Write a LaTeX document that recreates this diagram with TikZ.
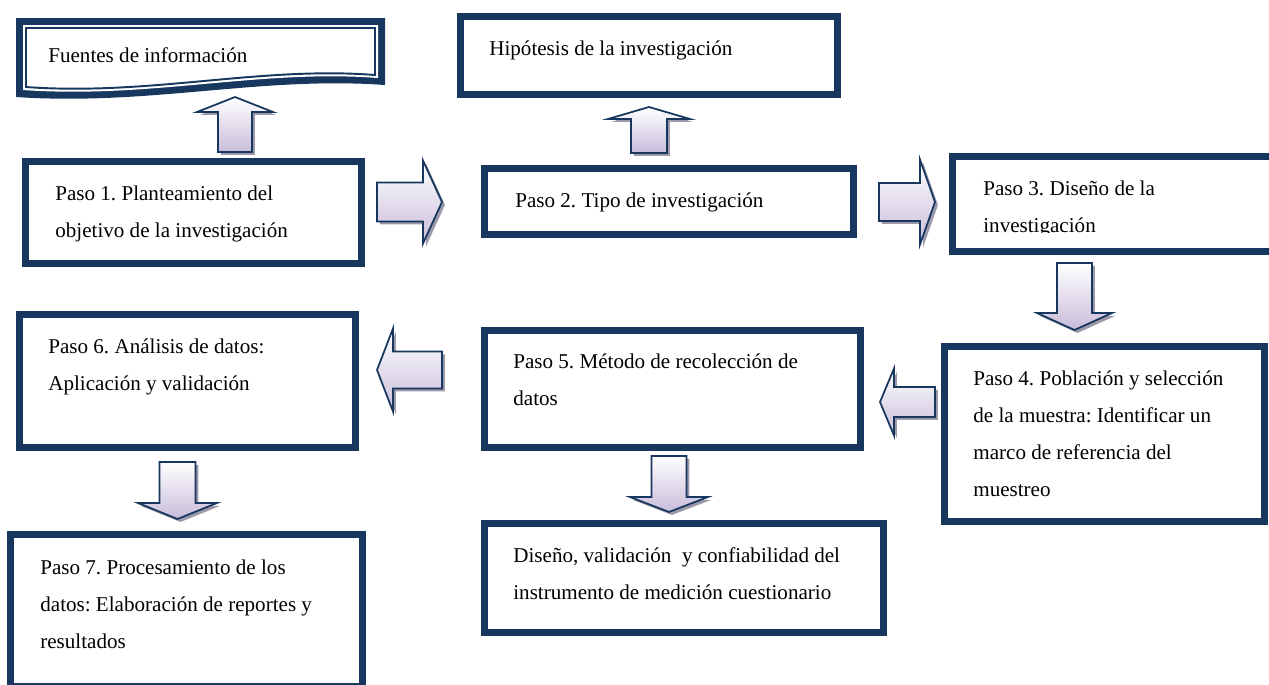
\documentclass[tikz,border=0pt]{standalone}
\usepackage{fontspec}
\setmainfont{Liberation Serif}
\frenchspacing
\definecolor{frame navy}{HTML}{17375E}
\definecolor{arrow lilac}{HTML}{C8BCDA}
\definecolor{arrow shadow}{HTML}{9D99AB}
\usetikzlibrary{calc,positioning,shadows}
\tikzstyle{box frame}=[draw=frame navy, line width=4pt, fill=white, anchor=north west, inner sep=0pt,
  append after command={\pgfextra{\draw[frame navy, line width=1.1pt] ([shift={(10,10)}]\tikzlastnode.north west) rectangle ([shift={(-10,-10)}]\tikzlastnode.south east);}}]
\tikzstyle{box text}=[anchor=north west, yshift=14.7pt, inner sep=0pt, text width=8cm, align=left, font=\fontsize{12}{21}\selectfont,
  execute at begin node={\spaceskip=0pt\xspaceskip=0pt\strut}]
\tikzstyle{block arrow}=[draw=frame navy, line width=1pt, top color=white, bottom color=arrow lilac,
  drop shadow={shadow xshift=1.7pt, shadow yshift=-1.7pt, fill=arrow shadow, opacity=1}]
% block arrows: tail, head base, tip, middle, shaft half width, head half width
\newcommand{\blockarrowh}[6]{\draw[block arrow] (#1,#4-#5) -- (#2,#4-#5) -- (#2,#4-#6) -- (#3,#4) -- (#2,#4+#6) -- (#2,#4+#5) -- (#1,#4+#5) -- cycle;}
\newcommand{\blockarrowv}[6]{\draw[block arrow] (#4-#5,#1) -- (#4-#5,#2) -- (#4-#6,#2) -- (#4,#3) -- (#4+#6,#2) -- (#4+#5,#2) -- (#4+#5,#1) -- cycle;}
\begin{document}
\begin{tikzpicture}[x=0.02cm, y=-0.02cm]
        \useasboundingbox (0,0) rectangle (1269,684);
        % fuentes de informacion (wavy bottom)
        \fill[frame navy] (16,18) -- (385,18) -- (385,85) .. controls (260,76) and (150,106) .. (16,97) -- cycle;
        \fill[white] (23,25) -- (378,25) -- (378,78) .. controls (260,69) and (150,99) .. (23,90) -- cycle;
        \draw[frame navy, line width=1.1pt] (26,28) -- (375,28) -- (375,75) .. controls (260,66) and (150,96) .. (26,87) -- cycle;
        \node[box text] (fuentes) at (48,62) {Fuentes de información};
        
        \node[box frame, minimum width=7.68cm-4pt, minimum height=1.70cm-4pt] (hipotesis) at (457,13) {};
        \node[box frame, minimum width=6.86cm-4pt, minimum height=2.18cm-4pt] (p1) at (22,158) {};
        \node[box frame, minimum width=7.52cm-4pt, minimum height=1.46cm-4pt] (p2) at (481,165) {};
        \node[box frame, minimum width=6.60cm-4pt, minimum height=2.04cm-4pt] (p3) at (949,153) {};
        \node[box frame, minimum width=6.54cm-4pt, minimum height=3.64cm-4pt] (p4) at (941,343) {};
        \node[box frame, minimum width=7.66cm-4pt, minimum height=2.48cm-4pt] (p5) at (481,327) {};
        \node[box frame, minimum width=6.86cm-4pt, minimum height=2.80cm-4pt] (p6) at (16,311) {};
        \node[box frame, minimum width=7.18cm-4pt, minimum height=3.18cm-4pt] (p7) at (7,531) {};
        \node[box frame, minimum width=8.12cm-4pt, minimum height=2.32cm-4pt] (diseno) at (481,520) {};
        
        \node[box text] (hipotesis-text) at ([shift={(32,42)}]hipotesis.north west) {Hipótesis de la investigación};
        \node[box text] (p1-text) at ([shift={(33,42)}]p1.north west) {Paso 1. Planteamiento del\\objetivo de la investigación};
        \node[box text] (p2-text) at ([shift={(34,42)}]p2.north west) {Paso 2. Tipo de investigación};
        \begin{scope}
            \clip (p3.north west) rectangle ($(p3.south east)+(0,-22)$);
            \node[box text] (p3-text) at ([shift={(34,42)}]p3.north west) {Paso 3. Diseño de la\\investigación};
        \end{scope}
        \node[box text] (p4-text) at ([shift={(32,42)}]p4.north west) {Paso 4. Población y selección\\de la muestra: Identificar un\\marco de referencia del\\muestreo};
        \node[box text] (p5-text) at ([shift={(32,41)}]p5.north west) {Paso 5. Método de recolección de\\datos};
        \node[box text] (p6-text) at ([shift={(32,42)}]p6.north west) {Paso 6. Análisis de datos:\\Aplicación y validación};
        \node[box text] (p7-text) at ([shift={(33,43)}]p7.north west) {Paso 7. Procesamiento de los\\datos: Elaboración de reportes y\\resultados};
        \node[box text] (diseno-text) at ([shift={(32,42)}]diseno.north west) {Diseño, validación~ y confiabilidad del\\instrumento de medición cuestionario};
        
        \blockarrowv{152}{112}{97}{235}{17}{38}
        \blockarrowv{153}{119}{107}{649}{18}{41}
        \blockarrowh{377}{423}{442}{202}{19.5}{41.5}
        \blockarrowh{879}{920}{935}{202}{19}{42.5}
        \blockarrowv{263}{313}{330}{1074.5}{17.5}{37.5}
        \blockarrowh{935}{894}{880}{402}{15}{33.5}
        \blockarrowh{442}{393}{377}{370}{18.5}{41.5}
        \blockarrowv{462}{503}{519}{177.5}{18}{39.5}
        \blockarrowv{456}{497}{512}{669}{17.5}{39}
        
    \end{tikzpicture}
\end{document}
